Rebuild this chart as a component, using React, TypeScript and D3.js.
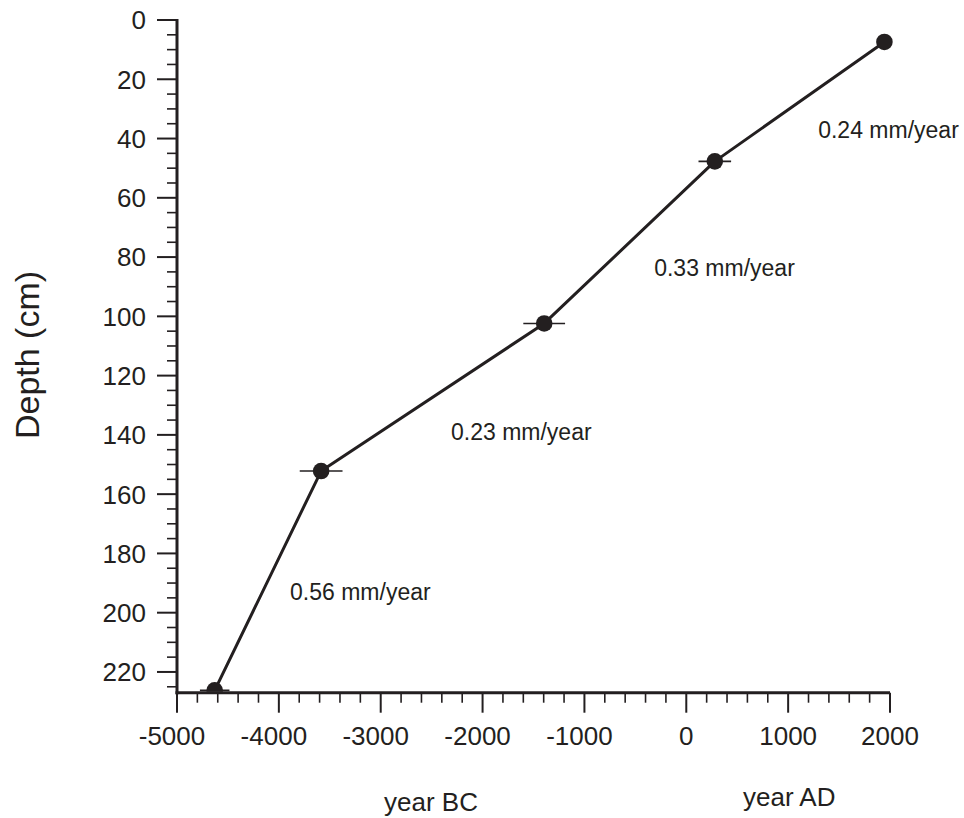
import React from "react";
import * as d3 from "d3";

// Age (calendar year, negative = BC) and depth (cm) of dated levels
const ages = [1945, 280, -1395, -3585, -4630];
const depths = [7.4, 47.7, 102.4, 152.2, 226.2];
const ageErrors = [0, 160, 205, 210, 145];

// Sedimentation rates between consecutive dates, with label anchor (age, depth)
const rateLabels = ["0.24 mm/year", "0.33 mm/year", "0.23 mm/year", "0.56 mm/year"];
const rateLabelAges = [1295, -315, -2310, -3890];
const rateLabelDepths = [39.8, 86.5, 141.8, 195.8];

const xTicks = [-5000, -4000, -3000, -2000, -1000, 0, 1000, 2000];
const yTicks = [0, 20, 40, 60, 80, 100, 120, 140, 160, 180, 200, 220];

const W = 964;
const H = 818;
const INK = "#231f20";
const FONT = "'Liberation Sans', Arial, Helvetica, sans-serif";

export default function App() {
  const x = d3.scaleLinear().domain([-5000, 2000]).range([177, 890]);
  const y = d3.scaleLinear().domain([0, 227]).range([20, 692.7]);
  const x0 = x(-5000);
  const yBottom = y(227);

  const xMinor = d3.range(-5000, 2001, 200).filter((v) => v % 1000 !== 0);
  const yMinor = d3.range(0, 227, 5).filter((v) => v % 20 !== 0);

  const line = d3
    .line<number>()
    .x((_, i) => x(ages[i]))
    .y((_, i) => y(depths[i]));

  return (
    <svg
      width={W}
      height={H}
      style={{ position: "absolute", left: 0, top: 0, background: "#fff" }}
      fontFamily={FONT}
    >
      <defs>
        <clipPath id="plotClip">
          <rect x={x0} y={0} width={W - x0} height={yBottom - 1} />
        </clipPath>
      </defs>

      {/* y axis ticks */}
      {yMinor.map((v) => (
        <line key={"ym" + v} x1={x0 - 10} x2={x0} y1={y(v)} y2={y(v)} stroke={INK} strokeWidth={1.6} />
      ))}
      {yTicks.map((v) => (
        <g key={"y" + v}>
          <line x1={x0 - 20} x2={x0} y1={y(v)} y2={y(v)} stroke={INK} strokeWidth={2} />
          <text x={146} y={y(v)} dy="0.36em" textAnchor="end" fontSize={26} fill={INK}>
            {v}
          </text>
        </g>
      ))}

      {/* x axis ticks */}
      {xMinor.map((v) => (
        <line key={"xm" + v} x1={x(v)} x2={x(v)} y1={yBottom} y2={yBottom + 10} stroke={INK} strokeWidth={1.6} />
      ))}
      {xTicks.map((v) => (
        <g key={"x" + v}>
          <line x1={x(v)} x2={x(v)} y1={yBottom} y2={yBottom + 20} stroke={INK} strokeWidth={2} />
          <text x={x(v) - (v < 0 ? 5 : 0)} y={745} textAnchor="middle" fontSize={26} fill={INK}>
            {v}
          </text>
        </g>
      ))}

      {/* axis lines */}
      <line x1={x0} x2={x0} y1={y(0) - 1} y2={yBottom + 1.5} stroke={INK} strokeWidth={3} />
      <line x1={x0 - 1.5} x2={x(2000)} y1={yBottom} y2={yBottom} stroke={INK} strokeWidth={3} />

      {/* data */}
      <g clipPath="url(#plotClip)">
        <path d={line(ages) || ""} fill="none" stroke={INK} strokeWidth={3} strokeLinejoin="round" />
        {ages.map((a, i) =>
          ageErrors[i] > 0 ? (
            <line
              key={"e" + i}
              x1={x(a - ageErrors[i])}
              x2={x(a + ageErrors[i])}
              y1={y(depths[i])}
              y2={y(depths[i])}
              stroke={INK}
              strokeWidth={1.6}
            />
          ) : null
        )}
        {ages.map((a, i) => (
          <circle key={"p" + i} cx={x(a)} cy={y(depths[i])} r={8.3} fill={INK} />
        ))}
      </g>

      {/* rate labels */}
      {rateLabels.map((t, i) => (
        <text key={"r" + i} x={x(rateLabelAges[i])} y={y(rateLabelDepths[i])} fontSize={23} fill={INK}>
          {t}
        </text>
      ))}

      {/* axis titles */}
      <text
        transform={`translate(39, 355) rotate(-90)`}
        textAnchor="middle"
        fontSize={34}
        fill={INK}
      >
        Depth (cm)
      </text>
      <text x={384} y={811} fontSize={26} fill={INK}>
        year BC
      </text>
      <text x={743} y={806} fontSize={26} fill={INK}>
        year AD
      </text>
    </svg>
  );
}
